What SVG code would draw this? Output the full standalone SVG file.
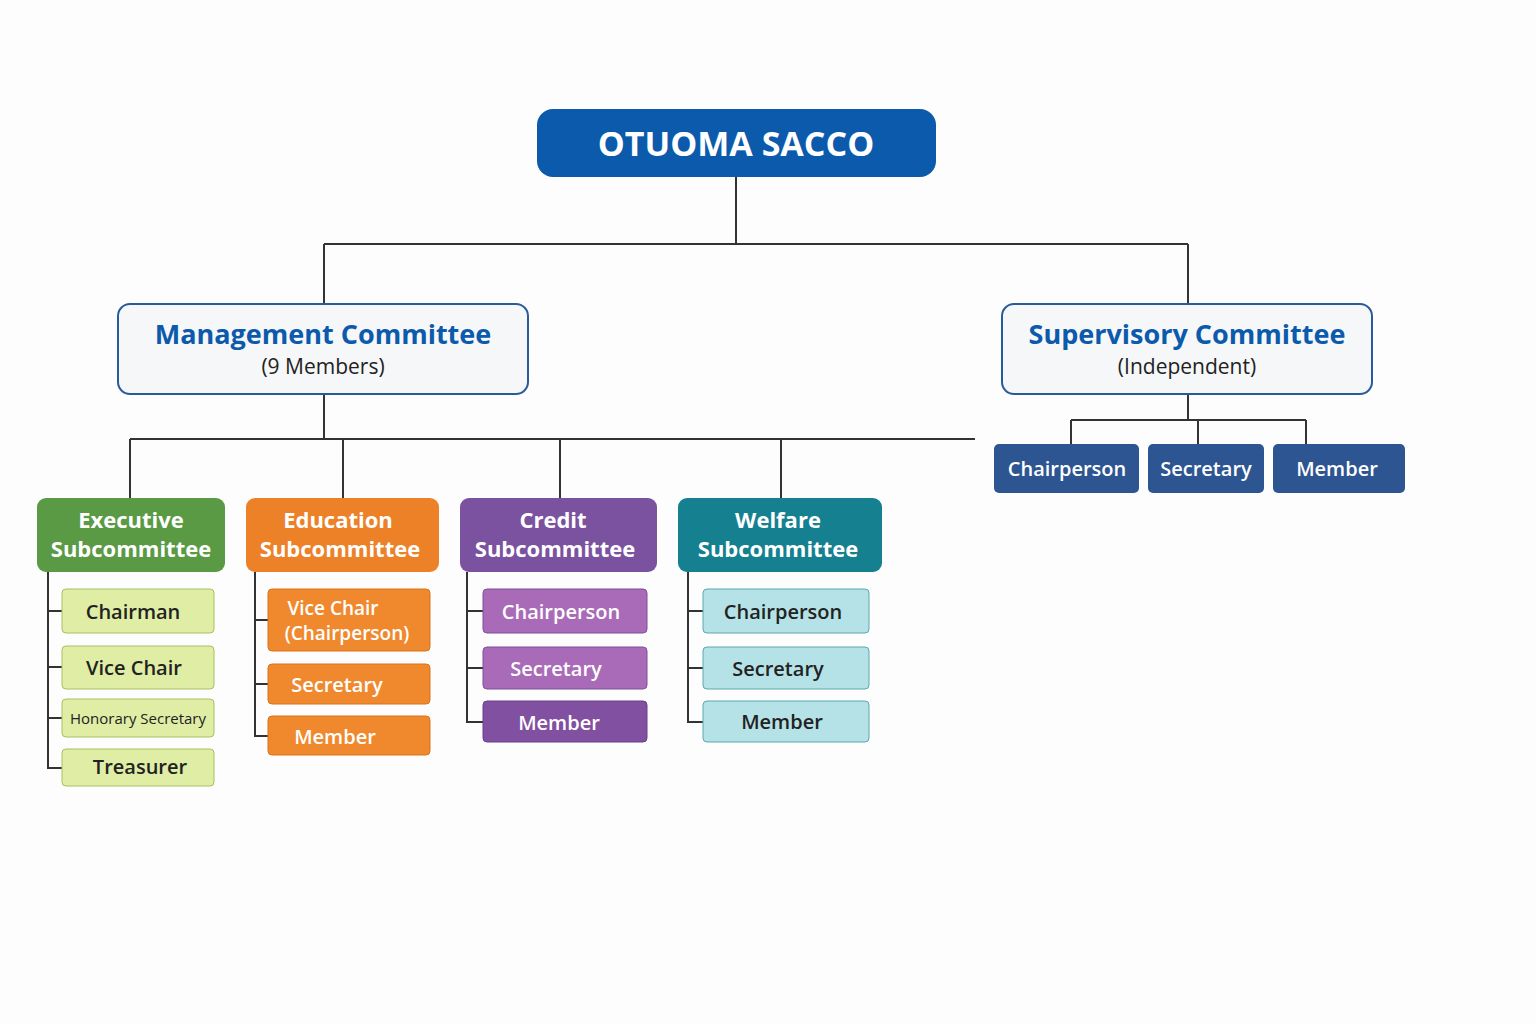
<svg xmlns="http://www.w3.org/2000/svg" width="1536" height="1024" viewBox="0 0 1536 1024">
<style>
text{font-family:"Open Sans","Noto Sans","Liberation Sans",sans-serif;text-anchor:middle;dominant-baseline:central}
.ln{stroke:#333;stroke-width:2;fill:none}
.hd{fill:#fff;font-weight:bold;font-size:22px}
.it{font-size:20px;font-weight:600}
.w{fill:#fff}.d{fill:#222}
</style>
<rect width="1536" height="1024" fill="#fdfdfd"/>
<g id="connectors" class="ln">
<path d="M736 177V244M324 244H1188M324 244V304M1188 244V304"/>
<path d="M324 394V439M130 439H975M130 439V498M343 439V498M560 439V498M781 439V498"/>
<path d="M1188 394V420M1071 420H1306M1071 420V444M1198 420V444M1306 420V444"/>
<path d="M48 572V768H62M48 611H62M48 667H62M48 718H62"/>
<path d="M255 572V736H268M255 620H268M255 684H268"/>
<path d="M467 572V722H483M467 611H483M467 668H483"/>
<path d="M688 572V722H703M688 611H703M688 668H703"/>
</g>
<g id="root"><rect x="537" y="109" width="399" height="68" rx="16" fill="#0b5aab"/><text x="736" y="143" class="hd" style="font-size:34px">OTUOMA SACCO</text></g>
<g id="management"><rect x="118" y="304" width="410" height="90" rx="12" fill="#f6f7f8" stroke="#2b5a9a" stroke-width="2"/><text x="323" y="333" style="font-size:27px;font-weight:bold;fill:#0b5aab">Management Committee</text><text x="323" y="366" class="d" style="font-size:21px">(9 Members)</text></g>
<g id="supervisory"><rect x="1002" y="304" width="370" height="90" rx="12" fill="#f6f7f8" stroke="#2b5a9a" stroke-width="2"/><text x="1187" y="333" style="font-size:27px;font-weight:bold;fill:#0b5aab">Supervisory Committee</text><text x="1187" y="366" class="d" style="font-size:21px">(Independent)</text></g>
<g id="sup-chair"><rect x="994" y="444" width="145" height="49" rx="5" fill="#2d5591"/><text x="1067" y="468" class="it w">Chairperson</text></g>
<g id="sup-sec"><rect x="1148" y="444" width="116" height="49" rx="5" fill="#2d5591"/><text x="1206" y="468" class="it w">Secretary</text></g>
<g id="sup-mem"><rect x="1273" y="444" width="132" height="49" rx="5" fill="#2d5591"/><text x="1337" y="468" class="it w">Member</text></g>

<g id="exec"><rect x="37" y="498" width="188" height="74" rx="9" fill="#5a9a44"/><text x="131" y="519" class="hd">Executive</text><text x="131" y="548" class="hd">Subcommittee</text></g>
<g id="exec-1"><rect x="62" y="589" width="152" height="44" rx="4" fill="#dfeda5" stroke="#a8c060"/><text x="133" y="611" class="it d">Chairman</text></g>
<g id="exec-2"><rect x="62" y="646" width="152" height="43" rx="4" fill="#dfeda5" stroke="#a8c060"/><text x="134" y="667" class="it d">Vice Chair</text></g>
<g id="exec-3"><rect x="62" y="699" width="152" height="38" rx="4" fill="#dfeda5" stroke="#a8c060"/><text x="138" y="718" class="d" style="font-size:15px">Honorary Secretary</text></g>
<g id="exec-4"><rect x="62" y="749" width="152" height="37" rx="4" fill="#dfeda5" stroke="#a8c060"/><text x="140" y="766" class="it d">Treasurer</text></g>

<g id="edu"><rect x="246" y="498" width="193" height="74" rx="9" fill="#ec8128"/><text x="338" y="519" class="hd">Education</text><text x="340" y="548" class="hd">Subcommittee</text></g>
<g id="edu-1"><rect x="268" y="589" width="162" height="62" rx="4" fill="#f0892e" stroke="#d9731c"/><text x="333" y="608" class="it w" style="font-size:19px">Vice Chair</text><text x="347" y="633" class="it w" style="font-size:19px">(Chairperson)</text></g>
<g id="edu-2"><rect x="268" y="664" width="162" height="40" rx="4" fill="#f0892e" stroke="#d9731c"/><text x="337" y="684" class="it w">Secretary</text></g>
<g id="edu-3"><rect x="268" y="716" width="162" height="39" rx="4" fill="#f0892e" stroke="#d9731c"/><text x="335" y="736" class="it w">Member</text></g>

<g id="credit"><rect x="460" y="498" width="197" height="74" rx="9" fill="#7b52a0"/><text x="553" y="519" class="hd">Credit</text><text x="555" y="548" class="hd">Subcommittee</text></g>
<g id="credit-1"><rect x="483" y="589" width="164" height="44" rx="4" fill="#a96bb8" stroke="#7d4f98"/><text x="561" y="611" class="it w">Chairperson</text></g>
<g id="credit-2"><rect x="483" y="647" width="164" height="42" rx="4" fill="#a96bb8" stroke="#7d4f98"/><text x="556" y="668" class="it w">Secretary</text></g>
<g id="credit-3"><rect x="483" y="701" width="164" height="41" rx="4" fill="#8250a0" stroke="#6a3f88"/><text x="559" y="722" class="it w">Member</text></g>

<g id="welfare"><rect x="678" y="498" width="204" height="74" rx="9" fill="#15808f"/><text x="778" y="519" class="hd">Welfare</text><text x="778" y="548" class="hd">Subcommittee</text></g>
<g id="welfare-1"><rect x="703" y="589" width="166" height="44" rx="4" fill="#b5e2e6" stroke="#5aa8b0"/><text x="783" y="611" class="it d">Chairperson</text></g>
<g id="welfare-2"><rect x="703" y="647" width="166" height="42" rx="4" fill="#b5e2e6" stroke="#5aa8b0"/><text x="778" y="668" class="it d">Secretary</text></g>
<g id="welfare-3"><rect x="703" y="701" width="166" height="41" rx="4" fill="#b5e2e6" stroke="#5aa8b0"/><text x="782" y="721" class="it d">Member</text></g>
</svg>
